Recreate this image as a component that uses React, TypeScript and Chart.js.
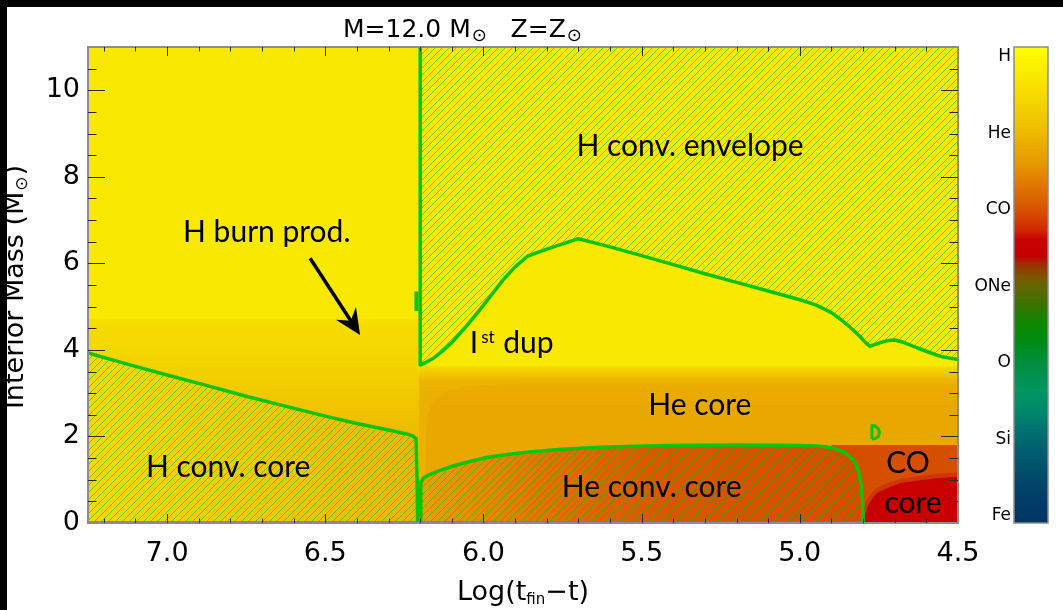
import { useEffect, useRef } from 'react';
import { Chart, registerables } from 'chart.js';

Chart.register(...registerables);

// ---------- axes ----------
const X_MIN = 4.5;
const X_MAX = 7.25;
const Y_MIN = 0;
const Y_MAX = 11;
const X_TICKS = [7.0, 6.5, 6.0, 5.5, 5.0, 4.5];
const Y_TICKS = [0, 2, 4, 6, 8, 10];
const ELEMENTS = ['H', 'He', 'CO', 'ONe', 'O', 'Si', 'Fe'];

// ---------- convective boundaries: log(t_fin - t) vs interior mass ----------
const H_CONV_T = [7.25, 7.12, 7.0, 6.87, 6.75, 6.62, 6.5, 6.4, 6.3, 6.25, 6.225, 6.213, 6.21, 6.208];
const H_CONV_M = [3.93, 3.66, 3.42, 3.17, 2.93, 2.69, 2.47, 2.3, 2.15, 2.07, 2.02, 1.95, 1.0, 0];

const ENV_T = [6.2, 6.2, 6.185, 6.16, 6.13, 6.1, 6.06, 6.02, 5.98, 5.94, 5.9, 5.86, 5.8, 5.7, 5.6, 5.5, 5.4, 5.3, 5.2, 5.1, 5.0, 4.95, 4.9, 4.87, 4.85, 4.83, 4.81, 4.79, 4.778, 4.765, 4.745, 4.72, 4.7, 4.67, 4.63, 4.59, 4.55, 4.5];
const ENV_M = [11, 3.65, 3.7, 3.8, 3.97, 4.17, 4.5, 4.85, 5.22, 5.6, 5.92, 6.17, 6.33, 6.57, 6.38, 6.18, 5.97, 5.76, 5.56, 5.36, 5.16, 5.04, 4.86, 4.7, 4.58, 4.45, 4.31, 4.15, 4.08, 4.12, 4.17, 4.22, 4.23, 4.17, 4.05, 3.94, 3.84, 3.78];

const HE_CONV_T = [6.198, 6.198, 6.19, 6.17, 6.14, 6.1, 6.05, 6.0, 5.92, 5.84, 5.74, 5.63, 5.52, 5.42, 5.2, 5.0, 4.95, 4.92, 4.894, 4.86, 4.83, 4.815, 4.805, 4.801, 4.8];
const HE_CONV_M = [0, 0.92, 1.04, 1.12, 1.21, 1.31, 1.41, 1.5, 1.59, 1.65, 1.71, 1.75, 1.775, 1.79, 1.8, 1.79, 1.78, 1.76, 1.73, 1.64, 1.46, 1.22, 0.85, 0.4, 0];

const BASE_T = [7.25, 4.8];
const BASE_M = [0, 0];

const SPIKE_T = [6.212, 6.212];
const SPIKE_M = [4.9, 5.35];

const BLIP_T = [4.772, 4.772, 4.762, 4.752, 4.748, 4.752, 4.762, 4.772];
const BLIP_M = [1.94, 2.26, 2.24, 2.18, 2.1, 2.0, 1.95, 1.94];

// ---------- composition zones ----------
const ENVELOPE_T = [X_MAX, X_MIN, X_MIN, X_MAX];
const ENVELOPE_M = [Y_MAX, Y_MAX, Y_MIN, Y_MIN];

const BURN_T = [7.25, 6.205, 6.205, 7.25];
const BURN_M = [4.72, 4.72, 0, 0];

const HE_SHELL_T = [6.205, 4.5, 4.5, 6.205];
const HE_SHELL_M = [3.62, 3.62, 0, 0];

const HE_CORE_T = [6.185, 6.18, 6.16, 6.12, 6.05, 5.9, 4.5, 4.5];
const HE_CORE_M = [0, 2.4, 2.8, 3.05, 3.17, 3.22, 3.22, 0];

const CO_T = [4.9, 4.5, 4.5, 4.9];
const CO_M = [1.8, 1.8, 0, 0];

const CO_EDGE_T = [4.806, 4.8, 4.79, 4.775, 4.76, 4.72, 4.68, 4.62, 4.56, 4.5, 4.5];
const CO_EDGE_M = [0, 0.3, 0.52, 0.68, 0.8, 0.93, 1.02, 1.09, 1.14, 1.17, 0];

const CO_CORE_T = [4.797, 4.793, 4.785, 4.77, 4.757, 4.72, 4.683, 4.62, 4.56, 4.5, 4.5];
const CO_CORE_M = [0, 0.2, 0.4, 0.57, 0.69, 0.82, 0.92, 0.99, 1.04, 1.07, 0];

// ---------- annotations ----------
const NOTE_TEXT = ['H conv. envelope', 'H burn prod.', 'He core', 'H conv. core', 'He conv. core', 'CO', 'core'];
const NOTE_T = [5.347, 6.685, 5.316, 6.807, 5.468, 4.658, 4.642];
const NOTE_M = [8.48, 6.5, 2.5, 1.06, 0.61, 1.15, 0.24];
const DUP_T = 6.037;
const DUP_M = 3.92;
const ARROW_T = [6.548, 6.39];
const ARROW_M = [6.12, 4.345];

// ---------- styles ----------
const GREEN = '#0cc40c';
const YELLOW = '#f9e800';
const TICK_FONT = '"DejaVu Sans", sans-serif';
const NOTE_FONT = 'Lato, "Noto Sans", sans-serif';

type Stop = [number, string];

const BURN_STOPS: Stop[] = [[4.72, '#f6de00'], [4.0, '#f4d700'], [3.0, '#f1ca00'], [2.0, '#eeba00']];
const HE_SHELL_STOPS: Stop[] = [[3.62, '#f6dc00'], [3.48, '#f2ca00'], [3.3, '#edb600'], [3.0, '#ebb000']];
const HE_CORE_STOPS: Stop[] = [[3.22, '#eaad00'], [2.6, '#e9a800']];
const H_CONV_STOPS: Stop[] = [[7.25, '#f4da00'], [6.9, '#f2d000'], [6.6, '#f0c600'], [6.22, '#ecb600']];
const HE_CONV_STOPS: Stop[] = [[6.2, '#e9a200'], [6.1, '#e79600'], [5.95, '#e48600'], [5.8, '#e17400'], [5.6, '#dc6200'], [5.4, '#d95600'], [5.0, '#d75000'], [4.8, '#d64c00']];

const BAR_STOPS: [number, string][] = [
  [0, '#ffff00'], [0.035, '#fcf200'], [0.105, '#f6d800'], [0.175, '#efbc00'], [0.245, '#e69800'],
  [0.29, '#e07800'], [0.34, '#d85400'], [0.385, '#d02800'], [0.405, '#c80000'], [0.44, '#c40000'],
  [0.452, '#a62400'], [0.468, '#8e4200'], [0.485, '#7a5800'], [0.5, '#646600'], [0.54, '#3c7200'],
  [0.58, '#0e8800'], [0.62, '#008c14'], [0.67, '#008e44'], [0.72, '#009660'], [0.755, '#008c68'],
  [0.8, '#007470'], [0.84, '#006270'], [0.91, '#00486a'], [1, '#003462'],
];

const pts = (t: number[], m: number[]) => t.map((x, i) => ({ x, y: m[i] }));

function massGradient(chart: any, stops: Stop[]) {
  const area = chart.chartArea;
  if (!area) return stops[0][1];
  const ys = chart.scales.y;
  const g = chart.ctx.createLinearGradient(0, area.top, 0, area.bottom);
  for (const [v, c] of stops) {
    const f = (ys.getPixelForValue(v) - area.top) / (area.bottom - area.top);
    g.addColorStop(Math.min(1, Math.max(0, f)), c);
  }
  return g;
}

function timeGradient(chart: any, stops: Stop[]) {
  const area = chart.chartArea;
  if (!area) return stops[0][1];
  const xs = chart.scales.x;
  const g = chart.ctx.createLinearGradient(area.left, 0, area.right, 0);
  for (const [v, c] of stops) {
    const f = (xs.getPixelForValue(v) - area.left) / (area.right - area.left);
    g.addColorStop(Math.min(1, Math.max(0, f)), c);
  }
  return g;
}

function makeHatch(): CanvasPattern | string {
  const tile = document.createElement('canvas');
  const s = 7;
  tile.width = s;
  tile.height = s;
  const t = tile.getContext('2d');
  if (!t) return 'transparent';
  t.strokeStyle = 'rgba(20,185,20,0.6)';
  t.lineWidth = 1;
  t.beginPath();
  t.moveTo(0, s);
  t.lineTo(s, 0);
  t.moveTo(-1, 1);
  t.lineTo(1, -1);
  t.moveTo(s - 1, s + 1);
  t.lineTo(s + 1, s - 1);
  t.stroke();
  return t.createPattern(tile, 'repeat') || 'transparent';
}

type Seg = { t: string; size: number; dy?: number; gap?: number };

function drawRich(ctx: CanvasRenderingContext2D, segs: Seg[], x: number, y: number, family: string, align: 'left' | 'center') {
  ctx.textAlign = 'left';
  ctx.textBaseline = 'alphabetic';
  const widths = segs.map((s) => {
    ctx.font = `${s.size}px ${family}`;
    return ctx.measureText(s.t).width + (s.gap || 0);
  });
  const total = widths.reduce((a, b) => a + b, 0);
  let cx = align === 'center' ? x - total / 2 : x;
  segs.forEach((s, i) => {
    ctx.font = `${s.size}px ${family}`;
    ctx.fillText(s.t, cx + (s.gap || 0), y + (s.dy || 0));
    cx += widths[i];
  });
}

const decor = {
  id: 'decor',
  afterDatasetsDraw(chart: any) {
    const { ctx, chartArea: a, scales } = chart;
    const xs = scales.x;
    const ys = scales.y;
    ctx.save();

    // region labels
    ctx.fillStyle = '#000';
    ctx.textAlign = 'center';
    ctx.textBaseline = 'alphabetic';
    ctx.font = `30px ${NOTE_FONT}`;
    NOTE_TEXT.forEach((t, i) => {
      ctx.fillText(t, xs.getPixelForValue(NOTE_T[i]), ys.getPixelForValue(NOTE_M[i]));
    });
    drawRich(ctx, [
      { t: 'I', size: 30 },
      { t: 'st', size: 17, dy: -10.6, gap: 3 },
      { t: ' dup', size: 30, gap: 1 },
    ], xs.getPixelForValue(DUP_T) - 2, ys.getPixelForValue(DUP_M), NOTE_FONT, 'left');

    // arrow
    const x0 = xs.getPixelForValue(ARROW_T[0]);
    const y0 = ys.getPixelForValue(ARROW_M[0]);
    const x1 = xs.getPixelForValue(ARROW_T[1]);
    const y1 = ys.getPixelForValue(ARROW_M[1]);
    const len = Math.hypot(x1 - x0, y1 - y0);
    const ux = (x1 - x0) / len;
    const uy = (y1 - y0) / len;
    const head = 26;
    const half = 12;
    const notch = 17;
    ctx.strokeStyle = '#000';
    ctx.lineWidth = 3.5;
    ctx.beginPath();
    ctx.moveTo(x0, y0);
    ctx.lineTo(x1 - ux * notch, y1 - uy * notch);
    ctx.stroke();
    ctx.fillStyle = '#000';
    ctx.beginPath();
    ctx.moveTo(x1, y1);
    ctx.lineTo(x1 - ux * head - uy * half, y1 - uy * head + ux * half);
    ctx.lineTo(x1 - ux * notch, y1 - uy * notch);
    ctx.lineTo(x1 - ux * head + uy * half, y1 - uy * head - ux * half);
    ctx.closePath();
    ctx.fill();

    // frame
    ctx.strokeStyle = '#8c8c8c';
    ctx.lineWidth = 2;
    ctx.strokeRect(a.left, a.top, a.right - a.left, a.bottom - a.top);

    // inward ticks on all four sides
    ctx.strokeStyle = '#2a2a2a';
    ctx.lineWidth = 1;
    ctx.beginPath();
    for (let k = 0; k <= 27; k++) {
      const v = X_MIN + k * 0.1;
      const px = Math.round(xs.getPixelForValue(v)) + 0.5;
      if (px <= a.left + 1 || px >= a.right - 1) continue;
      const l = k % 5 === 0 ? 9 : 4.5;
      ctx.moveTo(px, a.bottom);
      ctx.lineTo(px, a.bottom - l);
      ctx.moveTo(px, a.top);
      ctx.lineTo(px, a.top + l);
    }
    for (let k = 1; k <= 21; k++) {
      const v = k * 0.5;
      const py = Math.round(ys.getPixelForValue(v)) + 0.5;
      const l = k % 4 === 0 ? 17 : 8.5;
      ctx.moveTo(a.left, py);
      ctx.lineTo(a.left + l, py);
      ctx.moveTo(a.right, py);
      ctx.lineTo(a.right - l, py);
    }
    ctx.stroke();
    ctx.restore();
  },
  afterDraw(chart: any) {
    const { ctx, chartArea: a } = chart;
    ctx.save();
    ctx.fillStyle = '#000';

    // title
    drawRich(ctx, [
      { t: 'M=12.0 M', size: 25 },
      { t: '\u2299', size: 18, dy: 4, gap: 1 },
      { t: '   Z=Z', size: 25 },
      { t: '\u2299', size: 18, dy: 4, gap: 1 },
    ], 343, 37, TICK_FONT, 'left');

    // x title
    drawRich(ctx, [
      { t: 'Log(t', size: 27 },
      { t: 'fin', size: 15, dy: 4 },
      { t: '\u2212t)', size: 27 },
    ], (a.left + a.right) / 2, 600, TICK_FONT, 'center');

    // y title
    ctx.save();
    ctx.translate(23, (a.top + a.bottom) / 2 + 2);
    ctx.rotate(-Math.PI / 2);
    drawRich(ctx, [
      { t: 'Interior Mass (M', size: 27 },
      { t: '\u2299', size: 17, dy: 4, gap: 1 },
      { t: ')', size: 27, gap: 1 },
    ], 0, 0, TICK_FONT, 'center');
    ctx.restore();

    // composition colour bar
    const bx0 = 1014;
    const bx1 = 1048;
    const g = ctx.createLinearGradient(0, a.top, 0, a.bottom);
    BAR_STOPS.forEach(([f, c]) => g.addColorStop(f, c));
    ctx.fillStyle = g;
    ctx.fillRect(bx0, a.top, bx1 - bx0, a.bottom - a.top);
    ctx.strokeStyle = '#8c8c8c';
    ctx.lineWidth = 1.5;
    ctx.strokeRect(bx0, a.top, bx1 - bx0, a.bottom - a.top);
    ctx.fillStyle = '#000';
    ctx.font = `17px ${TICK_FONT}`;
    ctx.textAlign = 'right';
    ctx.textBaseline = 'middle';
    const lt = a.top + 10;
    const lb = a.bottom - 7;
    ELEMENTS.forEach((el, i) => {
      ctx.fillText(el, 1011, lt + (i * (lb - lt)) / (ELEMENTS.length - 1));
    });

    // black frame strips along the top and left edges
    ctx.fillStyle = '#000';
    ctx.fillRect(0, 0, chart.width, 7);
    ctx.fillRect(0, 0, 7, chart.height);
    ctx.restore();
  },
};

export default function App() {
  const ref = useRef<HTMLCanvasElement>(null);

  useEffect(() => {
    const canvas = ref.current;
    if (!canvas) return;
    const hatch = makeHatch();

    let layer = 0;
    const region = (label: string, data: any[], bg: any) => ({
      label,
      data,
      fill: 'shape',
      backgroundColor: bg,
      borderWidth: 0,
      pointRadius: 0,
      order: 1000 - layer++,
    });
    const boundary = (label: string, data: any[], width: number) => ({
      label,
      data,
      fill: false,
      borderColor: GREEN,
      borderWidth: width,
      borderJoinStyle: 'round',
      pointRadius: 0,
      order: 1000 - layer++,
    });

    const datasets: any[] = [
      region('envelope', pts(ENVELOPE_T, ENVELOPE_M), YELLOW),
      region('H burn products', pts(BURN_T, BURN_M), (c: any) => massGradient(c.chart, BURN_STOPS)),
      region('He shell', pts(HE_SHELL_T, HE_SHELL_M), (c: any) => massGradient(c.chart, HE_SHELL_STOPS)),
      region('He core', pts(HE_CORE_T, HE_CORE_M), (c: any) => massGradient(c.chart, HE_CORE_STOPS)),
      region('CO zone', pts(CO_T, CO_M), '#d64e00'),
      region('CO edge', pts(CO_EDGE_T, CO_EDGE_M), '#d03600'),
      region('CO core', pts(CO_CORE_T, CO_CORE_M), '#c80000'),
      region('H conv. core', pts([...H_CONV_T, X_MAX], [...H_CONV_M, 0]), (c: any) => timeGradient(c.chart, H_CONV_STOPS)),
      region('He conv. core', pts(HE_CONV_T, HE_CONV_M), (c: any) => timeGradient(c.chart, HE_CONV_STOPS)),
      region('H conv. core hatch', pts([...H_CONV_T, X_MAX], [...H_CONV_M, 0]), hatch),
      region('He conv. core hatch', pts(HE_CONV_T, HE_CONV_M), hatch),
      region('envelope hatch', pts([...ENV_T, X_MIN], [...ENV_M, Y_MAX]), hatch),
      boundary('H conv. boundary', pts(H_CONV_T, H_CONV_M), 3.5),
      boundary('He conv. boundary', pts(HE_CONV_T, HE_CONV_M), 3.5),
      boundary('envelope boundary', pts(ENV_T, ENV_M), 3.5),
      boundary('centre', pts(BASE_T, BASE_M), 3.5),
      boundary('spike', pts(SPIKE_T, SPIKE_M), 4),
      boundary('blip', pts(BLIP_T, BLIP_M), 3),
    ];

    const chart = new Chart(canvas, {
      type: 'line',
      data: { datasets },
      options: {
        responsive: false,
        animation: false,
        events: [],
        layout: { padding: { top: 47, right: 105, left: 0, bottom: 0 } },
        plugins: {
          legend: { display: false },
          tooltip: { enabled: false },
          title: { display: false },
          colors: { enabled: false },
        } as any,
        scales: {
          x: {
            type: 'linear',
            reverse: true,
            min: X_MIN,
            max: X_MAX,
            grid: { display: false, drawTicks: false },
            border: { display: false },
            ticks: {
              autoSkip: false,
              maxRotation: 0,
              padding: 15,
              color: '#000',
              font: { family: TICK_FONT, size: 27 },
              callback: (v: any) => Number(v).toFixed(1),
            },
            afterBuildTicks: (s: any) => {
              s.ticks = X_TICKS.map((value) => ({ value }));
            },
            afterFit: (s: any) => {
              s.height = 87;
            },
          },
          y: {
            type: 'linear',
            min: Y_MIN,
            max: Y_MAX,
            grid: { display: false, drawTicks: false },
            border: { display: false },
            ticks: {
              autoSkip: false,
              padding: 8,
              color: '#000',
              font: { family: TICK_FONT, size: 27 },
              callback: (v: any) => String(v),
            },
            afterBuildTicks: (s: any) => {
              s.ticks = Y_TICKS.map((value) => ({ value }));
            },
            afterFit: (s: any) => {
              s.width = 88;
            },
          },
        },
      } as any,
      plugins: [decor],
    });

    return () => chart.destroy();
  }, []);

  return (
    <div style={{ position: 'fixed', left: 0, top: 0, width: 1063, height: 610, background: '#fff' }}>
      <canvas ref={ref} width={1063} height={610} style={{ display: 'block', width: 1063, height: 610 }} />
    </div>
  );
}
